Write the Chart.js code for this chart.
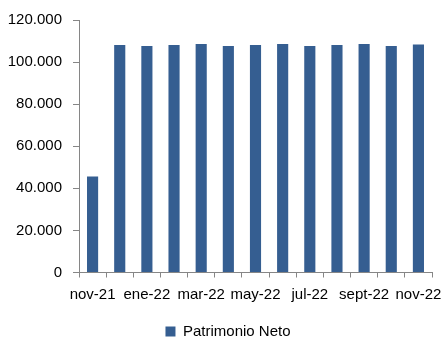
<!DOCTYPE html>
<html>
<head>
<meta charset="utf-8">
<script src="https://cdn.jsdelivr.net/npm/chart.js@4"></script>
<style>
  html, body { margin: 0; padding: 0; background: #ffffff; }
  #wrap { width: 441px; height: 339px; }
</style>
</head>
<body>
<div id="wrap"><canvas id="c" width="441" height="339"></canvas></div>
<script>
const months = ['nov-21','dic-21','ene-22','feb-22','mar-22','abr-22','may-22','jun-22','jul-22','ago-22','sept-22','oct-22','nov-22'];
const patrimonioNeto = [45600,108100,107600,108100,108600,107600,108100,108600,107600,108100,108600,107600,108300];
const yTicks = [0,20000,40000,60000,80000,100000,120000];

const fmt = v => String(v).replace(/\B(?=(\d{3})+(?!\d))/g, '.');
const axisColor = '#868686';
const font = { family: 'Liberation Sans, Arial, sans-serif', size: 15 };

// nudge the legend a little to the right of the canvas centre
const legendShift = {
  id: 'legendShift',
  afterLayout(chart) {
    if (chart.legend) { chart.legend.left += 12; chart.legend.right += 12; }
  }
};

new Chart(document.getElementById('c'), {
  type: 'bar',
  data: {
    labels: months,
    datasets: [{
      label: 'Patrimonio Neto',
      data: patrimonioNeto,
      backgroundColor: '#355E91',
      borderWidth: 0,
      categoryPercentage: 1,
      barPercentage: 0.41
    }]
  },
  plugins: [legendShift],
  options: {
    responsive: false,
    animation: false,
    devicePixelRatio: 1,
    layout: { padding: { top: 17, right: 9, bottom: -10, left: 0 } },
    plugins: {
      legend: {
        position: 'bottom',
        labels: {
          font: font,
          color: '#000',
          boxWidth: 10,
          boxHeight: 10,
          padding: 1
        }
      },
      tooltip: { enabled: false }
    },
    scales: {
      x: {
        grid: { display: true, drawOnChartArea: false, offset: true, color: axisColor, tickLength: 5 },
        border: { color: axisColor, width: 1 },
        ticks: {
          autoSkip: false,
          maxRotation: 0,
          minRotation: 0,
          padding: 8.5,
          color: '#000',
          font: font,
          callback: function (v, i) { return i % 2 === 0 ? months[i] : ''; }
        },
        afterFit: s => { s.height = 50.5; s.paddingLeft = 0; s.paddingRight = 0; }
      },
      y: {
        min: 0,
        max: 120000,
        afterBuildTicks: s => { s.ticks = yTicks.map(v => ({ value: v })); },
        grid: { display: true, drawOnChartArea: false, color: axisColor, tickLength: 6 },
        border: { color: axisColor, width: 1 },
        ticks: {
          padding: 11,
          color: '#000',
          font: font,
          callback: v => fmt(v)
        },
        afterFit: s => { s.width = 79; }
      }
    }
  }
});
</script>
</body>
</html>
